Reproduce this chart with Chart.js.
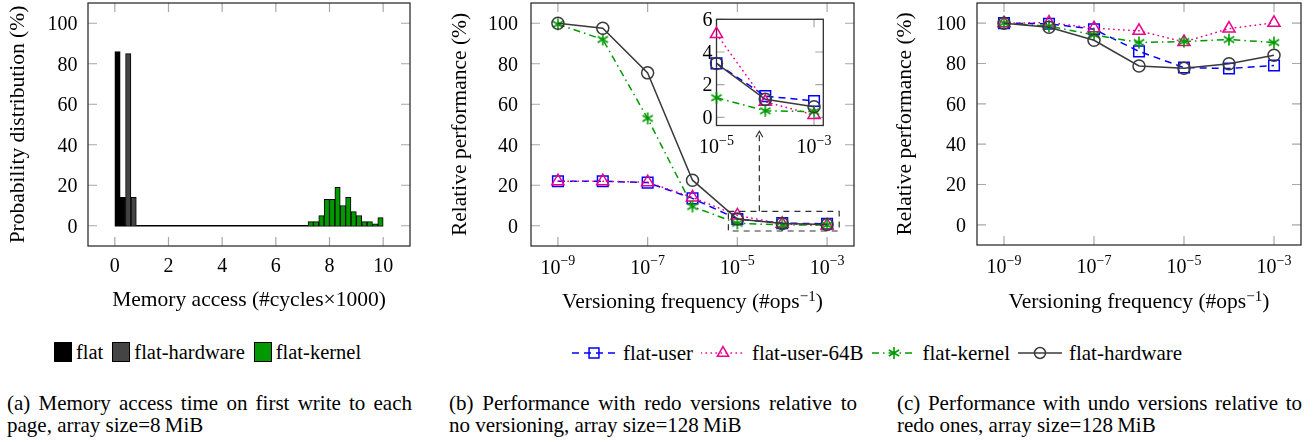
<!DOCTYPE html>
<html>
<head>
<meta charset="utf-8">
<script src="https://cdn.jsdelivr.net/npm/chart.js@4.4.1/dist/chart.umd.min.js"></script>
<style>
  html, body { margin: 0; padding: 0; background: #fff; }
  body { width: 1313px; height: 442px; position: relative; overflow: hidden;
         font-family: 'Liberation Serif', 'Times New Roman', serif; color: #000; }
  canvas.chart { position: absolute; top: 0; }
  .legend { position: absolute; height: 22px; display: flex; align-items: center;
            font-size: 20.5px; white-space: nowrap; }
  #legendA .box { width: 16px; height: 18px; border: 1px solid #000; margin-right: 4px; }
  #legendA .txt { margin-right: 9px; }
  #legendB { font-size: 21px; }
  #legendB canvas { margin-right: 7px; }
  #legendB .txt { margin-right: 8px; }
  .caption { position: absolute; font-size: 21px; line-height: 22px; white-space: nowrap; }
  .caption .l1 { text-align: justify; text-align-last: justify; }
</style>
</head>
<body>
<canvas class="chart" id="chartA" width="430" height="320" style="left:0"></canvas>
<canvas class="chart" id="chartB" width="430" height="320" style="left:440px"></canvas>
<canvas class="chart" id="chartC" width="433" height="320" style="left:880px"></canvas>
<canvas class="chart" id="inset" width="160" height="160" style="left:680px"></canvas>

<div class="legend" id="legendA" style="left:54px; top:341px"></div>
<div class="legend" id="legendB" style="left:572px; top:342px"></div>

<div class="caption" style="left:7px; top:392px; width:405px">
  <div class="l1">(a) Memory access time on first write to each</div>
  <div>page, array size=8&#8201;MiB</div>
</div>
<div class="caption" style="left:449px; top:392px; width:408px">
  <div class="l1">(b) Performance with redo versions relative to</div>
  <div>no versioning, array size=128&#8201;MiB</div>
</div>
<div class="caption" style="left:897px; top:392px; width:405px">
  <div class="l1">(c) Performance with undo versions relative to</div>
  <div>redo ones, array size=128&#8201;MiB</div>
</div>

<script>
// (a) histogram of first-write access time, bins of 0.2k cycles (bin centres)
const flatBins = [0.1, 0.3];
const flatProb = [86, 14];
const hwBins = [0.5, 0.7];
const hwProb = [85, 14];
const kernelBins = [7.3, 7.5, 7.7, 7.9, 8.1, 8.3, 8.5, 8.7, 8.9, 9.1, 9.3, 9.5, 9.7, 9.9];
const kernelProb = [2, 2, 5, 13, 13, 19, 10, 14, 7, 5, 2, 2, 1, 4];
const histRange = [0, 10];
const memTicks = [0, 2, 4, 6, 8, 10];

// (b) redo versions relative to no versioning, (c) undo relative to redo
const freq = [1e-9, 1e-8, 1e-7, 1e-6, 1e-5, 1e-4, 1e-3];
const redoUser = [22, 22, 21.3, 13.5, 3.3, 1.3, 1.0];
const redoUser64 = [22, 22, 21.5, 14, 5.1, 0.95, 0.15];
const redoKernel = [99.5, 92, 53, 9.5, 1.2, 0.4, 0.35];
const redoHw = [100, 97.5, 75.5, 22.5, 3.3, 1.1, 0.65];
const undoUser = [100, 99.7, 97, 86, 78, 77.5, 79];
const undoUser64 = [100, 100.3, 97.5, 96.2, 90.7, 97.3, 100.2];
const undoKernel = [100, 98.5, 94.2, 90.4, 90.9, 91.9, 90.4];
const undoHw = [100, 98, 91.5, 78.8, 77.6, 79.9, 84.1];

const freqTicks = [1e-9, 1e-7, 1e-5, 1e-3];
const insetFreqTicks = [1e-5, 1e-3];
const pctTicks = [0, 20, 40, 60, 80, 100];
const insetTicks = [0, 2, 4, 6];

const SERIF = "'Liberation Serif', 'Times New Roman', serif";
const TICK_PX = 20;
const LABEL_PX = 21.5;

Chart.defaults.font.family = SERIF;
Chart.defaults.color = '#000';
Chart.defaults.animation = false;
Chart.defaults.plugins.legend.display = false;
Chart.defaults.plugins.tooltip.enabled = false;

function makeAsterisk(color, size) {
  const c = document.createElement('canvas');
  c.width = size; c.height = size;
  const g = c.getContext('2d');
  const m = size / 2, r = size / 2 - 1;
  g.strokeStyle = color;
  g.lineWidth = 1.6;
  g.beginPath();
  for (let k = 0; k < 3; k++) {
    const a = Math.PI / 2 + k * Math.PI / 3;
    g.moveTo(m + r * Math.cos(a), m + r * Math.sin(a));
    g.lineTo(m - r * Math.cos(a), m - r * Math.sin(a));
  }
  g.stroke();
  return c;
}

const BLUE = '#0000ff', PINK = '#ec008c', GREEN = '#009900', GREY = '#3a3a3a';
const series = {
  user:   { label: 'flat-user',     color: BLUE,  dash: [7, 5],          cap: 'butt',  point: 'rect',     radius: 7.5, order: 4 },
  user64: { label: 'flat-user-64B', color: PINK,  dash: [0.5, 4.5],      cap: 'round', point: 'triangle', radius: 7,   order: 3 },
  kernel: { label: 'flat-kernel',   color: GREEN, dash: [7, 4, 1.5, 4],  cap: 'butt',  point: makeAsterisk(GREEN, 14), radius: 6, order: 2 },
  hw:     { label: 'flat-hardware', color: GREY,  dash: [],              cap: 'butt',  point: 'circle',   radius: 6,   order: 1 }
};

function lineSet(st, xs, ys) {
  return {
    label: st.label,
    data: xs.map((x, i) => ({ x, y: ys[i] })),
    borderColor: st.color,
    borderWidth: 1.5,
    borderDash: st.dash,
    borderCapStyle: st.cap,
    pointStyle: st.point,
    pointRadius: st.radius,
    pointBorderWidth: 1.5,
    pointBorderColor: st.color,
    pointBackgroundColor: 'rgba(0,0,0,0)',
    tension: 0,
    order: st.order,
    clip: false
  };
}

function histSet(label, bins, probs, color) {
  return {
    label,
    data: bins.map((x, i) => ({ x, y: probs[i] })),
    backgroundColor: color,
    borderColor: '#000',
    borderWidth: 1,
    grouped: false,
    barPercentage: 1,
    categoryPercentage: 1
  };
}

// gray tick marks pointing inwards on all four sides, then the dark frame
const framePlugin = {
  id: 'frame',
  beforeDatasetsDraw(chart, args, opts) {
    const { ctx, chartArea: a, scales } = chart;
    const len = opts.len || 9;
    ctx.save();
    if (opts.fill) {
      ctx.fillStyle = '#fff';
      ctx.fillRect(a.left, a.top, a.right - a.left, a.bottom - a.top);
    }
    ctx.strokeStyle = '#a8a8a8';
    ctx.lineWidth = 1.2;
    ctx.beginPath();
    scales.x.ticks.forEach(t => {
      const p = scales.x.getPixelForValue(t.value);
      ctx.moveTo(p, a.bottom); ctx.lineTo(p, a.bottom - len);
      ctx.moveTo(p, a.top); ctx.lineTo(p, a.top + len);
    });
    scales.y.ticks.forEach(t => {
      const p = scales.y.getPixelForValue(t.value);
      ctx.moveTo(a.left, p); ctx.lineTo(a.left + len, p);
      ctx.moveTo(a.right, p); ctx.lineTo(a.right - len, p);
    });
    ctx.stroke();
    ctx.strokeStyle = '#303030';
    ctx.lineWidth = 1.3;
    ctx.strokeRect(a.left, a.top, a.right - a.left, a.bottom - a.top);
    ctx.restore();
  }
};

// text made of normal and superscript runs, centred on cx
function supText(ctx, parts, size, cx, y, raise) {
  const widths = parts.map(([t, sup]) => {
    ctx.font = (sup ? size * 0.7 : size) + 'px ' + SERIF;
    return ctx.measureText(t).width;
  });
  let x = cx - widths.reduce((s, w) => s + w, 0) / 2;
  parts.forEach(([t, sup], i) => {
    ctx.font = (sup ? size * 0.7 : size) + 'px ' + SERIF;
    ctx.fillText(t, x, sup ? y - raise : y);
    x += widths[i];
  });
}

// tick labels (plain or 10^n) and the x title with a superscript
const labelsPlugin = {
  id: 'labels',
  afterDraw(chart, args, o) {
    const { ctx, chartArea: a, scales: { x, y } } = chart;
    ctx.save();
    ctx.fillStyle = '#000';
    ctx.textBaseline = 'alphabetic';
    ctx.textAlign = 'left';
    x.ticks.forEach(t => {
      const px = x.getPixelForValue(t.value);
      if (o.pow) {
        const e = Math.round(Math.log10(t.value));
        const exp = (e < 0 ? '\u2212' : '') + Math.abs(e);
        supText(ctx, [['10', false], [exp, true]], TICK_PX, px, a.bottom + o.xBase, 8.5);
      } else {
        supText(ctx, [[String(t.value), false]], TICK_PX, px, a.bottom + o.xBase, 0);
      }
    });
    ctx.font = TICK_PX + 'px ' + SERIF;
    ctx.textAlign = 'right';
    y.ticks.forEach(t => {
      ctx.fillText(String(t.value), a.left - o.yPad, y.getPixelForValue(t.value) + 6.8);
    });
    ctx.textAlign = 'left';
    if (o.title) supText(ctx, o.title, LABEL_PX, (a.left + a.right) / 2, 308, 7.5);
    ctx.restore();
  }
};

// dashed zoom rectangle and the arrow up to the inset
const zoomBoxPlugin = {
  id: 'zoomBox',
  afterDatasetsDraw(chart, args, o) {
    const { ctx, scales: { x, y } } = chart;
    const x0 = x.getPixelForValue(o.x[0]), x1 = x.getPixelForValue(o.x[1]);
    const y0 = y.getPixelForValue(o.y[0]), y1 = y.getPixelForValue(o.y[1]);
    const ax = x.getPixelForValue(o.arrowX), ay = y.getPixelForValue(o.arrowY);
    ctx.save();
    ctx.strokeStyle = '#303030';
    ctx.lineWidth = 1.2;
    ctx.setLineDash([6, 5]);
    ctx.strokeRect(x0, y1, x1 - x0, y0 - y1);
    ctx.setLineDash([6, 4]);
    ctx.beginPath(); ctx.moveTo(ax, y1); ctx.lineTo(ax, ay + 1); ctx.stroke();
    ctx.setLineDash([]);
    ctx.beginPath(); ctx.moveTo(ax - 3.5, ay + 6); ctx.lineTo(ax, ay); ctx.lineTo(ax + 3.5, ay + 6); ctx.stroke();
    ctx.restore();
  }
};

const setTicks = vals => s => { s.ticks = vals.map(v => ({ value: v })); };
// tick labels are painted by labelsPlugin so the scales keep no label margins
const bare = { bounds: 'data', grid: { display: false, drawTicks: false }, border: { display: false }, ticks: { display: false } };
const fixedLayout = (top, right) => ({ autoPadding: false, padding: { top, right, left: 0, bottom: 0 } });

function yAxis(width, titlePad, title, min, max, ticks) {
  return Object.assign({
    min, max,
    afterBuildTicks: setTicks(ticks),
    afterFit: s => { s.width = width; },
    title: { display: !!title, text: title, font: { size: LABEL_PX, lineHeight: 1.2 }, padding: { top: titlePad, bottom: 0 } }
  }, bare);
}

function logAxis(height, min, max, ticks) {
  return Object.assign({
    type: 'logarithmic', min, max,
    afterBuildTicks: setTicks(ticks),
    afterFit: s => { s.height = height; }
  }, bare);
}

const versTitle = [['Versioning frequency (#ops', false], ['\u22121', true], [')', false]];

// (a)
new Chart(document.getElementById('chartA'), {
  type: 'bar',
  data: {
    datasets: [
      histSet('flat', flatBins, flatProb, '#000000'),
      histSet('flat-hardware', hwBins, hwProb, '#444444'),
      histSet('flat-kernel', kernelBins, kernelProb, GREEN),
      { type: 'line', label: 'zero', data: histRange.map(x => ({ x, y: 0 })),
        borderColor: '#000', borderWidth: 1.3, pointRadius: 0, order: 10 }
    ]
  },
  options: {
    responsive: false,
    layout: fixedLayout(3, 20),
    scales: {
      x: Object.assign({
        type: 'linear', min: -1, max: 11, offset: false,
        afterBuildTicks: setTicks(memTicks),
        afterFit: s => { s.height = 74; },
        title: { display: true, text: 'Memory access (#cycles\u00d71000)', font: { size: LABEL_PX, lineHeight: 1.2 }, padding: { top: 0, bottom: 6.5 } }
      }, bare),
      y: yAxis(88, 5.6, 'Probability distribution (%)', -10, 110, pctTicks)
    },
    plugins: { labels: { xBase: 25.8, yPad: 10.5 } }
  },
  plugins: [framePlugin, labelsPlugin]
});

// (b)
new Chart(document.getElementById('chartB'), {
  type: 'line',
  data: {
    datasets: [
      lineSet(series.user, freq, redoUser),
      lineSet(series.user64, freq, redoUser64),
      lineSet(series.kernel, freq, redoKernel),
      lineSet(series.hw, freq, redoHw)
    ]
  },
  options: {
    responsive: false,
    layout: fixedLayout(3, 16),
    scales: {
      x: logAxis(74, 10 ** -9.6, 10 ** -2.4, freqTicks),
      y: yAxis(91, 7.1, 'Relative performance (%)', -10, 110, pctTicks)
    },
    plugins: {
      labels: { pow: true, xBase: 27.5, yPad: 13, title: versTitle },
      zoomBox: { x: [10 ** -5.2, 10 ** -2.73], y: [-2.6, 7.1], arrowX: 10 ** -4.51, arrowY: 46.7 }
    }
  },
  plugins: [framePlugin, labelsPlugin, zoomBoxPlugin]
});

// (b) inset, zoom on the last three frequencies
const insetFrom = freq.indexOf(1e-5);
const tail = arr => arr.slice(insetFrom);
new Chart(document.getElementById('inset'), {
  type: 'line',
  data: {
    datasets: [
      lineSet(series.user, tail(freq), tail(redoUser)),
      lineSet(series.user64, tail(freq), tail(redoUser64)),
      lineSet(series.kernel, tail(freq), tail(redoKernel)),
      lineSet(series.hw, tail(freq), tail(redoHw))
    ]
  },
  options: {
    responsive: false,
    layout: fixedLayout(19.3, 16.7),
    scales: {
      x: logAxis(34.5, 1e-5, 10 ** -2.81, insetFreqTicks),
      y: yAxis(36.5, 0, '', -0.5, 6, insetTicks)
    },
    plugins: {
      frame: { fill: true, len: 8 },
      labels: { pow: true, xBase: 27.5, yPad: 4 }
    }
  },
  plugins: [framePlugin, labelsPlugin]
});

// (c)
new Chart(document.getElementById('chartC'), {
  type: 'line',
  data: {
    datasets: [
      lineSet(series.user, freq, undoUser),
      lineSet(series.user64, freq, undoUser64),
      lineSet(series.kernel, freq, undoKernel),
      lineSet(series.hw, freq, undoHw)
    ]
  },
  options: {
    responsive: false,
    layout: fixedLayout(3, 12),
    scales: {
      x: logAxis(75, 10 ** -9.6, 10 ** -2.4, freqTicks),
      y: yAxis(97, 12.6, 'Relative performance (%)', -10, 110, pctTicks)
    },
    plugins: { labels: { pow: true, xBase: 28, yPad: 11, title: versTitle } }
  },
  plugins: [framePlugin, labelsPlugin]
});

// legends
function drawMarker(g, st, x, y, r) {
  g.lineWidth = 1.5;
  g.strokeStyle = st.color;
  if (st.point instanceof HTMLCanvasElement) {
    g.drawImage(st.point, x - st.point.width / 2, y - st.point.height / 2);
    return;
  }
  g.beginPath();
  if (st.point === 'rect') {
    const s = r / Math.SQRT2;
    g.rect(x - s, y - s, 2 * s, 2 * s);
  } else if (st.point === 'triangle') {
    for (let k = 0; k < 3; k++) {
      const a = k * 2 * Math.PI / 3;
      const px = x + Math.sin(a) * r, py = y - Math.cos(a) * r;
      k ? g.lineTo(px, py) : g.moveTo(px, py);
    }
    g.closePath();
  } else {
    g.arc(x, y, r, 0, 2 * Math.PI);
  }
  g.stroke();
}

const legA = document.getElementById('legendA');
[['flat', '#000000'], ['flat-hardware', '#444444'], ['flat-kernel', GREEN]].forEach(([name, col]) => {
  const box = document.createElement('span');
  box.className = 'box';
  box.style.background = col;
  const txt = document.createElement('span');
  txt.className = 'txt';
  txt.textContent = name;
  legA.append(box, txt);
});

const legB = document.getElementById('legendB');
[series.user, series.user64, series.kernel, series.hw].forEach(st => {
  const cv = document.createElement('canvas');
  cv.width = 44; cv.height = 22;
  const g = cv.getContext('2d');
  g.strokeStyle = st.color;
  g.lineWidth = 1.5;
  g.lineCap = st.cap;
  g.setLineDash(st.dash);
  g.beginPath(); g.moveTo(0, 11); g.lineTo(44, 11); g.stroke();
  g.setLineDash([]);
  drawMarker(g, st, 22, 11, st.radius - 0.5);
  const txt = document.createElement('span');
  txt.className = 'txt';
  txt.textContent = st.label;
  legB.append(cv, txt);
});
</script>
</body>
</html>
